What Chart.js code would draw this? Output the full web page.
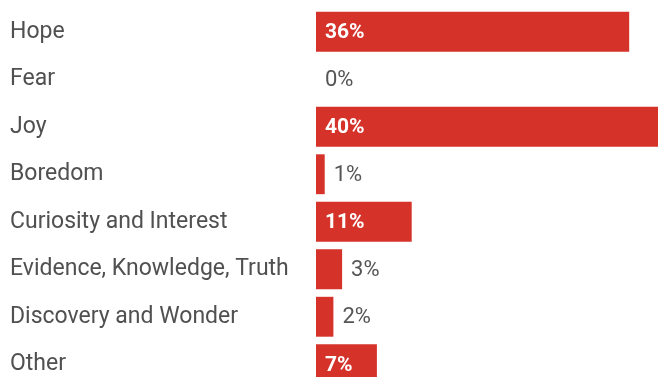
<!DOCTYPE html>
<html>
<head>
<meta charset="utf-8">
<script src="https://cdn.jsdelivr.net/npm/chart.js@4"></script>
<style>
  html, body { margin: 0; padding: 0; background: #fff; overflow: hidden; }
  #wrap { position: absolute; left: 0; top: 0; width: 664px; height: 388px; }
</style>
</head>
<body>
<div id="wrap"><canvas id="emotions-chart"></canvas></div>
<script>
const categories = [
  "Hope",
  "Fear",
  "Joy",
  "Boredom",
  "Curiosity and Interest",
  "Evidence, Knowledge, Truth",
  "Discovery and Wonder",
  "Other",
];
const percents = [36, 0, 40, 1, 11, 3, 2, 7];

const barRed = "#d5322a";

// value labels: white bold inside the wide bars, grey beside the thin ones
const valueLabels = {
  id: "valueLabels",
  afterDatasetsDraw(chart) {
    const ctx = chart.ctx;
    const meta = chart.getDatasetMeta(0);
    ctx.save();
    ctx.textBaseline = "middle";
    ctx.textAlign = "left";
    meta.data.forEach((bar, i) => {
      const v = percents[i];
      const text = v + "%";
      if (v >= 5) {
        ctx.font = "bold 21px Roboto";
        ctx.fillStyle = "#ffffff";
        ctx.fillText(text, bar.base + 9, bar.y + 1);
      } else {
        ctx.font = "22px Roboto";
        ctx.fillStyle = "#555555";
        ctx.fillText(text, bar.x + 9, bar.y + 1);
      }
    });
    ctx.restore();
  },
};

new Chart(document.getElementById("emotions-chart").getContext("2d"), {
  type: "bar",
  data: {
    labels: categories,
    datasets: [
      {
        data: percents,
        backgroundColor: barRed,
        borderWidth: 0,
        categoryPercentage: 1,
        barPercentage: 0.84,
      },
    ],
  },
  options: {
    indexAxis: "y",
    animation: false,
    responsive: true,
    maintainAspectRatio: false,
    layout: { padding: { top: 8, left: 10, right: 0, bottom: 0 } },
    plugins: {
      legend: { display: false },
      tooltip: { enabled: false },
    },
    scales: {
      x: { display: false, min: 0, max: 40 },
      y: {
        grid: { display: false },
        border: { display: false },
        ticks: {
          crossAlign: "far",
          color: "#505050",
          font: { family: "Roboto", size: 23 },
        },
        afterFit(scale) {
          scale.width = 306; // bars start at x=316
          scale.paddingTop = 0;
          scale.paddingBottom = 0;
        },
      },
    },
  },
  plugins: [valueLabels],
});
</script>
</body>
</html>
